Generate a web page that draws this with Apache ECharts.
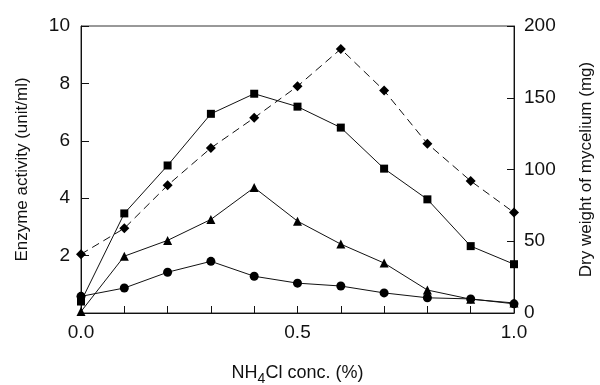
<!DOCTYPE html>
<html lang="en">
<head>
    <meta charset="UTF-8">
    <title>NH4Cl</title>
    <script src="https://cdn.jsdelivr.net/npm/echarts@6/dist/echarts.min.js"></script>
    <style>
        *{
            margin: 0;
            padding: 0;
        }
        html,body{
            width: 100%;
            height: 100%;
            background: #fff;
        }
        .main{
            width: 600px;
            height: 385px;
        }
    </style>
</head>
<body>
<div class="main"></div>
<script>
    // NH4Cl concentration (%)
    let conc = [0.0, 0.1, 0.2, 0.3, 0.4, 0.5, 0.6, 0.7, 0.8, 0.9, 1.0];
    // enzyme activity (unit/ml)
    let squares = [0.4, 3.47, 5.14, 6.94, 7.64, 7.19, 6.46, 5.03, 3.96, 2.33, 1.7];
    let triangles = [0.05, 1.98, 2.53, 3.26, 4.37, 3.2, 2.4, 1.74, 0.8, 0.48, 0.35];
    let circles = [0.58, 0.87, 1.42, 1.8, 1.28, 1.04, 0.94, 0.7, 0.53, 0.49, 0.32];
    // dry weight of mycelium (mg)
    let diamonds = [41, 59, 89, 115, 136, 158, 184, 155, 118, 92, 70];

    let font = 'Liberation Sans, Arial, sans-serif';
    let main = echarts.init(document.getElementsByClassName('main')[0]);

    function pairs(vals) {
        return conc.map((c, i) => [c, vals[i]]);
    }
    function line(name, vals, symbol, size, axis, dashed) {
        return {
            name,
            type: 'line',
            yAxisIndex: axis,
            data: pairs(vals),
            symbol,
            symbolSize: size,
            showSymbol: true,
            animation: false,
            lineStyle: {color: '#111', width: 1, type: dashed ? [8, 5] : 'solid'},
            itemStyle: {color: '#000'}
        };
    }

    let option = {
        backgroundColor: '#fff',
        grid: {
            left: 81, right: 86, top: 26, bottom: 72,
            outerBoundsMode: 'none',
            containLabel: false,
            show: true, borderColor: '#333', borderWidth: 1
        },
        xAxis: {
            type: 'value',
            min: 0, max: 1, interval: 0.1,
            name: 'NH{sub|4}Cl conc. (%)',
            nameLocation: 'middle',
            nameGap: 47,
            nameTextStyle: {
                fontFamily: font, fontSize: 18, color: '#111',
                rich: {sub: {fontFamily: font, fontSize: 14, color: '#111', verticalAlign: 'bottom', padding: [12, 0, 0, 0]}}
            },
            axisLine: {lineStyle: {color: '#111'}},
            axisTick: {inside: true, length: 7, lineStyle: {color: '#111'}},
            splitLine: {show: false},
            axisLabel: {
                fontFamily: font, fontSize: 19, color: '#111', margin: 10,
                formatter: v => Math.abs(v * 2 - Math.round(v * 2)) < 1e-6 ? v.toFixed(1) : ''
            }
        },
        yAxis: [{
            type: 'value',
            min: 0, max: 10, interval: 2,
            name: 'Enzyme activity (unit/ml)',
            nameLocation: 'middle',
            nameGap: 50,
            nameTextStyle: {fontFamily: font, fontSize: 17, color: '#111'},
            axisLine: {show: true, lineStyle: {color: '#111'}},
            axisTick: {show: true, inside: true, length: 8, lineStyle: {color: '#111'}},
            splitLine: {show: false},
            axisLabel: {
                fontFamily: font, fontSize: 19, color: '#111', margin: 11,
                formatter: v => v === 0 ? '' : String(v)
            }
        }, {
            type: 'value',
            min: 0, max: 200, interval: 50,
            name: 'Dry weight of mycelium (mg)',
            nameLocation: 'middle',
            nameGap: 64,
            nameRotate: 90,
            nameTextStyle: {fontFamily: font, fontSize: 17, color: '#111'},
            axisLine: {show: true, lineStyle: {color: '#111'}},
            axisTick: {show: true, inside: true, length: 7, lineStyle: {color: '#111'}},
            splitLine: {show: false},
            axisLabel: {fontFamily: font, fontSize: 19, color: '#111', margin: 10}
        }],
        series: [
            line('diamond', diamonds, 'diamond', 10, 1, true),
            line('square', squares, 'rect', 8, 0, false),
            line('triangle', triangles, 'triangle', 9, 0, false),
            line('circle', circles, 'circle', 9, 0, false)
        ]
    };
    main.setOption(option);
</script>
</body>
</html>
